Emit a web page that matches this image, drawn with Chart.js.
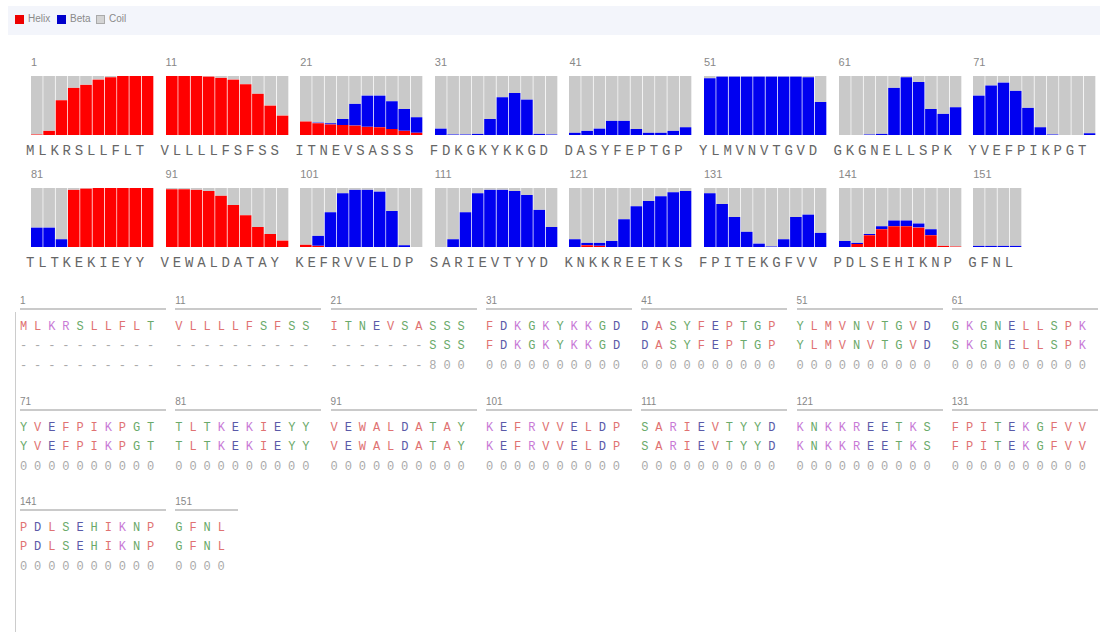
<!DOCTYPE html>
<html>
<head>
  <meta charset="UTF-8">
  <script src="https://cdn.jsdelivr.net/npm/chart.js"></script>
  <style>
    body { margin: 0; background: #fff; font-family: "Liberation Sans", Arial, sans-serif; }
    #page { position: relative; width: 1105px; height: 632px; overflow: hidden; }
    #legendBar { position: absolute; left: 8px; top: 6px; width: 1092px; height: 29px; background: #f3f5fb; }
    .sw { position: absolute; top: 9px; width: 9px; height: 9px; }
    .lg { position: absolute; top: 7px; font-size: 10px; color: #8a8a8a; }
    .pnum { position: absolute; font-size: 11px; color: #888; }
    .pseq { position: absolute; font: 14px "Liberation Mono", monospace; letter-spacing: 3.8px; color: #666; white-space: pre; }
    canvas.panel { position: absolute; }
    .ahead { position: absolute; font-size: 10px; color: #888; border-bottom: 2px solid #cacaca; height: 13px; }
    .arow { position: absolute; font: 12px "Liberation Mono", monospace; letter-spacing: 6.9px; white-space: pre; }
    #vline { position: absolute; left: 15px; top: 312px; width: 1px; height: 320px; background: #ccc; }
  </style>
</head>
<body>
<div id="page">
  <div id="legendBar">
    <div class="sw" style="left:7px;background:#ee0000"></div><span class="lg" style="left:20px">Helix</span>
    <div class="sw" style="left:49px;background:#0000cc"></div><span class="lg" style="left:62px">Beta</span>
    <div class="sw" style="left:88px;background:#d4d4d4;border:1px solid #aaa;width:7px;height:7px"></div><span class="lg" style="left:101px">Coil</span>
  </div>
  <div id="vline"></div>
</div>
<script>
  // predicted sequence, 154 residues
  const sequence = "MLKRSLLFLTVLLLLFSFSSITNEVSASSSFDKGKYKKGDDASYFEPTGPYLMVNVTGVDGKGNELLSPKYVEFPIKPGTTLTKEKIEYYVEWALDATAYKEFRVVELDPSARIEVTYYDKNKKREETKSFPITEKGFVVPDLSEHIKNPGFNL";

  // helix probability (%) per residue
  const helix = [
    1, 7, 59, 80, 85, 94, 98, 100, 100, 100,
    100, 100, 100, 99, 97, 94, 86, 70, 50, 33,
    23, 20, 18, 17, 16, 14, 13, 10, 7, 4,
    0, 0, 0, 0, 0, 0, 0, 0, 0, 0,
    0, 0, 0, 0, 0, 0, 0, 0, 0, 0,
    0, 0, 0, 0, 0, 0, 0, 0, 0, 0,
    0, 0, 0, 0, 0, 0, 0, 0, 0, 0,
    0, 0, 0, 0, 0, 0, 0, 0, 0, 0,
    0, 0, 0, 97, 99, 100, 100, 100, 100, 100,
    98, 98, 97, 95, 87, 71, 54, 34, 22, 11,
    4, 2, 0, 0, 0, 0, 0, 0, 0, 0,
    0, 0, 0, 0, 0, 0, 0, 0, 0, 0,
    0, 3, 2, 0, 0, 0, 0, 0, 0, 0,
    0, 0, 0, 0, 0, 0, 0, 0, 0, 0,
    0, 5, 20, 30, 35, 35, 33, 20, 2, 1,
    0, 0, 0, 0
  ];

  // beta probability (%) per residue
  const beta = [
    0, 0, 0, 0, 0, 0, 0, 0, 0, 0,
    0, 0, 0, 0, 0, 0, 0, 0, 0, 0,
    0, 1, 2, 10, 37, 53, 54, 47, 37, 26,
    11, 1, 1, 2, 27, 64, 71, 60, 2, 1,
    4, 7, 11, 24, 24, 10, 4, 4, 7, 13,
    96, 99, 99, 99, 99, 99, 99, 99, 98, 56,
    0, 0, 1, 2, 80, 98, 90, 44, 36, 47,
    67, 84, 89, 75, 46, 13, 1, 0, 0, 3,
    33, 33, 13, 0, 0, 0, 0, 0, 0, 0,
    0, 0, 0, 0, 0, 0, 0, 0, 0, 0,
    0, 17, 59, 91, 97, 97, 94, 61, 3, 0,
    0, 13, 59, 91, 97, 97, 95, 88, 63, 34,
    13, 4, 5, 10, 47, 69, 78, 86, 93, 95,
    91, 73, 51, 26, 6, 1, 13, 51, 55, 24,
    10, 2, 2, 5, 10, 10, 7, 10, 0, 0,
    2, 2, 2, 2
  ];

  // alignment rows under the panels
  const alignQuery = sequence;
  const alignHit = "---------------------------SSSFDKGKYKKGDDASYFEPTGPYLMVNVTGVDSKGNELLSPKYVEFPIKPGTTLTKEKIEYYVEWALDATAYKEFRVVELDPSARIEVTYYDKNKKREETKSFPITEKGFVVPDLSEHIKNPGFNL";
  const alignConf = "---------------------------8000000000000000000000000000000000000000000000000000000000000000000000000000000000000000000000000000000000000000000000000000000000";

  const page = document.getElementById('page');

  function add(tag, cls, css, text) {
    const el = document.createElement(tag);
    if (cls) el.className = cls;
    Object.assign(el.style, css);
    if (text !== undefined) el.textContent = text;
    page.appendChild(el);
    return el;
  }

  // ---- top: 10-residue probability panels ----
  const panelW = 123, pitch = 134.6, barW = panelW / 10;
  const rowTop = [76, 188];
  const panelH = 59;

  for (let p = 0; p * 10 < sequence.length; p++) {
    const start = p * 10;
    const end = Math.min(start + 10, sequence.length);
    const row = Math.floor(p / 8), col = p % 8;
    const left = 31 + col * pitch;
    const top = rowTop[row];

    add('div', 'pnum', { left: left + 'px', top: (top - 20) + 'px' }, String(start + 1));
    add('div', 'pseq', { left: (left - 5) + 'px', top: (top + 67) + 'px' }, sequence.slice(start, end));

    const n = end - start;
    const cv = add('canvas', 'panel', { left: left + 'px', top: top + 'px' });
    cv.width = Math.round(barW * n);
    cv.height = panelH;

    const labels = [], h = [], b = [], c = [];
    for (let i = start; i < end; i++) {
      labels.push(i + 1);
      h.push(helix[i]);
      b.push(beta[i]);
      c.push(100 - helix[i] - beta[i]);
    }

    new Chart(cv, {
      type: 'bar',
      data: {
        labels: labels,
        datasets: [
          { label: 'Helix', data: h, backgroundColor: '#ff0000' },
          { label: 'Beta', data: b, backgroundColor: '#0000f0' },
          { label: 'Coil', data: c, backgroundColor: '#c9c9c9' }
        ]
      },
      options: {
        responsive: false,
        animation: false,
        events: [],
        layout: { padding: 0 },
        datasets: {
          bar: {
            barPercentage: 1,
            categoryPercentage: 1,
            borderWidth: { right: 1 },
            borderColor: 'rgba(255,255,255,0.18)',
            borderSkipped: false
          }
        },
        plugins: { legend: { display: false }, tooltip: { enabled: false } },
        scales: {
          x: { stacked: true, display: false },
          y: { stacked: true, display: false, min: 0, max: 100 }
        }
      }
    });
  }

  // ---- bottom: alignment text blocks ----
  const colors = {};
  'AVFPMILW'.split('').forEach(ch => colors[ch] = '#e07272');
  'DE'.split('').forEach(ch => colors[ch] = '#5a5aa8');
  'RK'.split('').forEach(ch => colors[ch] = '#c87ad6');
  'STYHCNGQ'.split('').forEach(ch => colors[ch] = '#6aaa6a');

  function colored(el, txt) {
    for (const ch of txt) {
      const s = document.createElement('span');
      s.textContent = ch;
      s.style.color = colors[ch] || '#aaa';
      el.appendChild(s);
    }
  }

  const blockPitch = 155.3, blockW = 146;
  const lineRows = [
    { base: 311, first: 0 },
    { base: 412, first: 70 },
    { base: 512, first: 140 }
  ];
  lineRows.forEach(lr => {
    for (let k = 0; k < 7; k++) {
      const s = lr.first + k * 10;
      if (s >= sequence.length) break;
      const e = Math.min(s + 10, sequence.length);
      const x = 20 + k * blockPitch;
      const w = e - s === 10 ? blockW : blockW * (e - s) / 10 + 4;
      add('div', 'ahead', { left: x + 'px', top: (lr.base - 16) + 'px', width: w + 'px' }, String(s + 1));
      const r1 = add('div', 'arow', { left: x + 'px', top: (lr.base + 9) + 'px' });
      colored(r1, alignQuery.slice(s, e));
      const r2 = add('div', 'arow', { left: x + 'px', top: (lr.base + 28) + 'px' });
      colored(r2, alignHit.slice(s, e));
      add('div', 'arow', { left: x + 'px', top: (lr.base + 48) + 'px', color: '#aaa' }, alignConf.slice(s, e));
    }
  });
</script>
</body>
</html>
